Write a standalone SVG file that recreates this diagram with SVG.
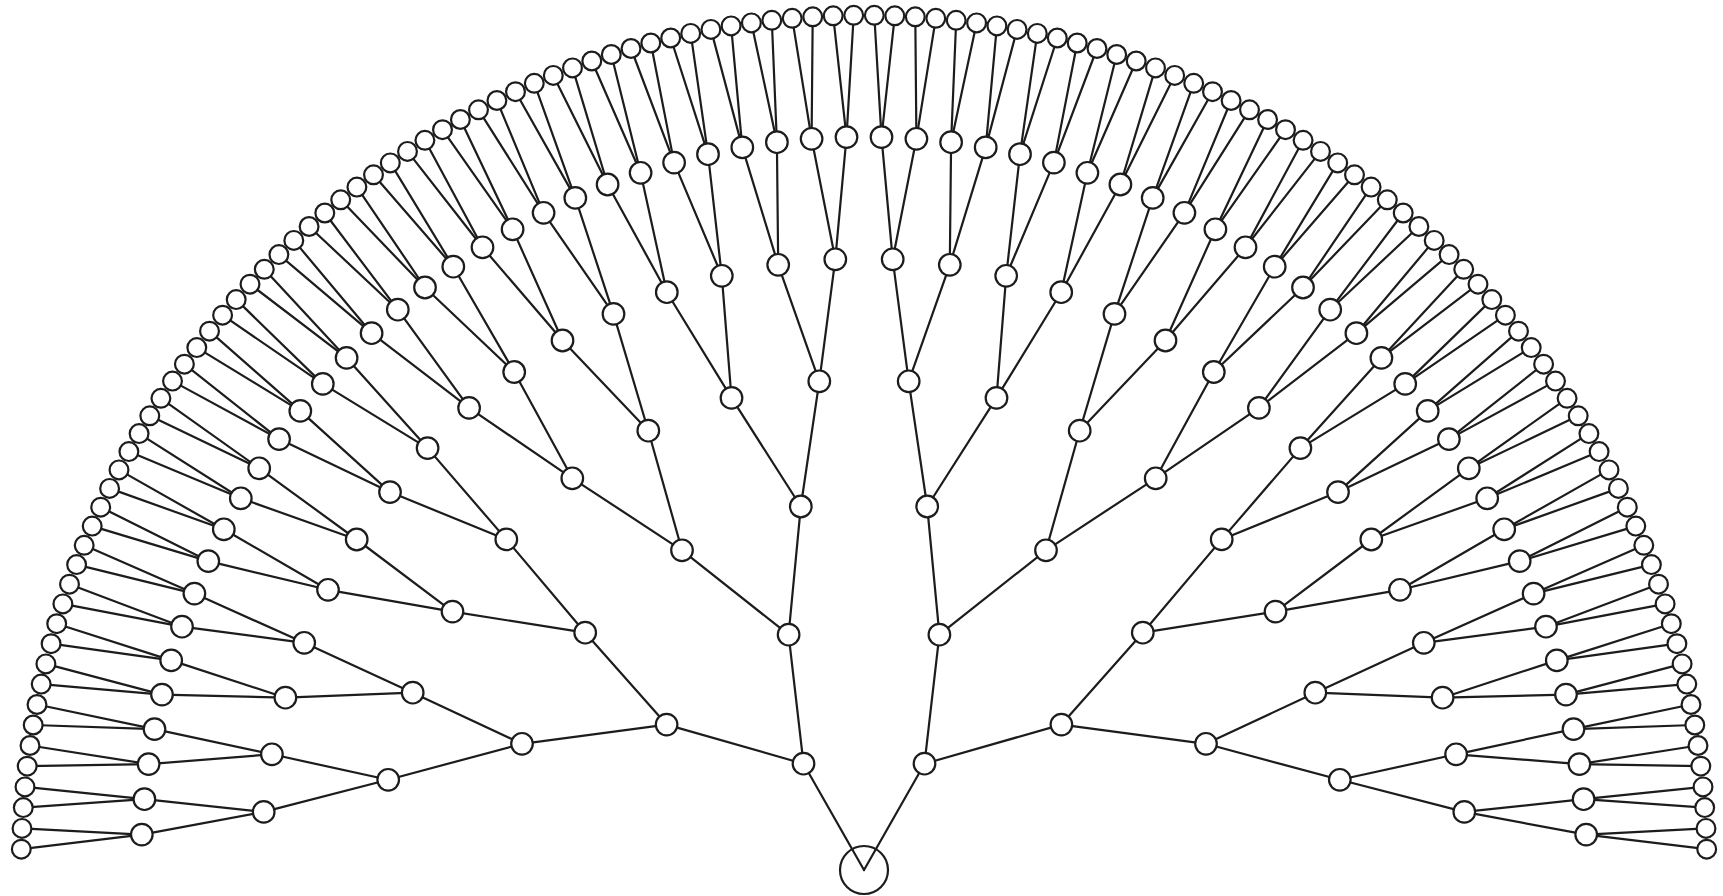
<svg xmlns="http://www.w3.org/2000/svg" width="1723" height="896" viewBox="0 0 1723 896">
<style>
.bg{fill:#fff}
#connectors line{stroke:#1c1c1c;stroke-width:2.2;stroke-linecap:round}
.node circle{fill:#fff;stroke:#1c1c1c;stroke-width:2.2}
.root circle{fill:none;stroke:#1c1c1c;stroke-width:2.2}
</style>
<rect class="bg" x="0" y="0" width="1723" height="896"/>
<g id="connectors">
<line x1="864" y1="870" x2="803.5" y2="763.7"/>
<line x1="864" y1="870" x2="924.5" y2="763.7"/>
<line x1="803.5" y1="763.7" x2="666.6" y2="724.6"/><line x1="803.5" y1="763.7" x2="788.6" y2="634.7"/>
<line x1="666.6" y1="724.6" x2="522.0" y2="743.8"/><line x1="666.6" y1="724.6" x2="585.2" y2="632.7"/>
<line x1="788.6" y1="634.7" x2="682.0" y2="550.3"/><line x1="788.6" y1="634.7" x2="800.8" y2="506.5"/>
<line x1="522.0" y1="743.8" x2="388.2" y2="779.8"/><line x1="522.0" y1="743.8" x2="412.7" y2="692.7"/>
<line x1="585.2" y1="632.7" x2="452.5" y2="611.6"/><line x1="585.2" y1="632.7" x2="506.3" y2="539.4"/>
<line x1="682.0" y1="550.3" x2="572.3" y2="478.3"/><line x1="682.0" y1="550.3" x2="648.3" y2="430.7"/>
<line x1="800.8" y1="506.5" x2="731.5" y2="397.9"/><line x1="800.8" y1="506.5" x2="819.3" y2="381.3"/>
<line x1="388.2" y1="779.8" x2="263.7" y2="811.9"/><line x1="388.2" y1="779.8" x2="271.9" y2="754.3"/>
<line x1="412.7" y1="692.7" x2="285.4" y2="697.7"/><line x1="412.7" y1="692.7" x2="304.2" y2="642.8"/>
<line x1="452.5" y1="611.6" x2="328.0" y2="589.8"/><line x1="452.5" y1="611.6" x2="356.7" y2="539.5"/>
<line x1="506.3" y1="539.4" x2="390.0" y2="492.1"/><line x1="506.3" y1="539.4" x2="427.6" y2="448.1"/>
<line x1="572.3" y1="478.3" x2="469.1" y2="407.9"/><line x1="572.3" y1="478.3" x2="514.2" y2="372.0"/>
<line x1="648.3" y1="430.7" x2="562.5" y2="340.5"/><line x1="648.3" y1="430.7" x2="613.5" y2="313.9"/>
<line x1="731.5" y1="397.9" x2="666.8" y2="292.2"/><line x1="731.5" y1="397.9" x2="721.8" y2="275.8"/>
<line x1="819.3" y1="381.3" x2="778.2" y2="264.8"/><line x1="819.3" y1="381.3" x2="835.3" y2="259.3"/>
<line x1="263.7" y1="811.9" x2="141.8" y2="834.6"/><line x1="263.7" y1="811.9" x2="144.4" y2="799.2"/>
<line x1="271.9" y1="754.3" x2="148.6" y2="764.1"/><line x1="271.9" y1="754.3" x2="154.5" y2="729.1"/>
<line x1="285.4" y1="697.7" x2="162.0" y2="694.6"/><line x1="285.4" y1="697.7" x2="171.2" y2="660.4"/>
<line x1="304.2" y1="642.8" x2="182.0" y2="626.7"/><line x1="304.2" y1="642.8" x2="194.4" y2="593.6"/>
<line x1="328.0" y1="589.8" x2="208.3" y2="561.1"/><line x1="328.0" y1="589.8" x2="223.8" y2="529.3"/>
<line x1="356.7" y1="539.5" x2="240.8" y2="498.3"/><line x1="356.7" y1="539.5" x2="259.2" y2="468.3"/>
<line x1="390.0" y1="492.1" x2="279.1" y2="439.1"/><line x1="390.0" y1="492.1" x2="300.3" y2="410.9"/>
<line x1="427.6" y1="448.1" x2="322.8" y2="383.9"/><line x1="427.6" y1="448.1" x2="346.6" y2="357.9"/>
<line x1="469.1" y1="407.9" x2="371.6" y2="333.2"/><line x1="469.1" y1="407.9" x2="397.8" y2="309.7"/>
<line x1="514.2" y1="372.0" x2="425.0" y2="287.5"/><line x1="514.2" y1="372.0" x2="453.3" y2="266.7"/>
<line x1="562.5" y1="340.5" x2="482.5" y2="247.3"/><line x1="562.5" y1="340.5" x2="512.6" y2="229.3"/>
<line x1="613.5" y1="313.9" x2="543.6" y2="212.8"/><line x1="613.5" y1="313.9" x2="575.3" y2="197.9"/>
<line x1="666.8" y1="292.2" x2="607.6" y2="184.5"/><line x1="666.8" y1="292.2" x2="640.6" y2="172.8"/>
<line x1="721.8" y1="275.8" x2="674.1" y2="162.6"/><line x1="721.8" y1="275.8" x2="708.0" y2="154.2"/>
<line x1="778.2" y1="264.8" x2="742.3" y2="147.4"/><line x1="778.2" y1="264.8" x2="776.9" y2="142.2"/>
<line x1="835.3" y1="259.3" x2="811.6" y2="138.8"/><line x1="835.3" y1="259.3" x2="846.5" y2="137.1"/>
<line x1="141.8" y1="834.6" x2="21.3" y2="849.2"/><line x1="141.8" y1="834.6" x2="22.0" y2="828.4"/>
<line x1="144.4" y1="799.2" x2="23.3" y2="807.6"/><line x1="144.4" y1="799.2" x2="25.0" y2="786.9"/>
<line x1="148.6" y1="764.1" x2="27.2" y2="766.2"/><line x1="148.6" y1="764.1" x2="30.0" y2="745.5"/>
<line x1="154.5" y1="729.1" x2="33.2" y2="725.0"/><line x1="154.5" y1="729.1" x2="37.0" y2="704.5"/>
<line x1="162.0" y1="694.6" x2="41.2" y2="684.1"/><line x1="162.0" y1="694.6" x2="45.9" y2="663.9"/>
<line x1="171.2" y1="660.4" x2="51.1" y2="643.7"/><line x1="171.2" y1="660.4" x2="56.7" y2="623.7"/>
<line x1="182.0" y1="626.7" x2="62.9" y2="603.9"/><line x1="182.0" y1="626.7" x2="69.5" y2="584.2"/>
<line x1="194.4" y1="593.6" x2="76.6" y2="564.6"/><line x1="194.4" y1="593.6" x2="84.2" y2="545.3"/>
<line x1="208.3" y1="561.1" x2="92.2" y2="526.1"/><line x1="208.3" y1="561.1" x2="100.7" y2="507.2"/>
<line x1="223.8" y1="529.3" x2="109.6" y2="488.4"/><line x1="223.8" y1="529.3" x2="119.0" y2="469.9"/>
<line x1="240.8" y1="498.3" x2="128.9" y2="451.6"/><line x1="240.8" y1="498.3" x2="139.1" y2="433.6"/>
<line x1="259.2" y1="468.3" x2="149.8" y2="415.8"/><line x1="259.2" y1="468.3" x2="160.9" y2="398.3"/>
<line x1="279.1" y1="439.1" x2="172.5" y2="381.1"/><line x1="279.1" y1="439.1" x2="184.4" y2="364.2"/>
<line x1="300.3" y1="410.9" x2="196.8" y2="347.6"/><line x1="300.3" y1="410.9" x2="209.5" y2="331.2"/>
<line x1="322.8" y1="383.9" x2="222.6" y2="315.2"/><line x1="322.8" y1="383.9" x2="236.2" y2="299.6"/>
<line x1="346.6" y1="357.9" x2="250.0" y2="284.2"/><line x1="346.6" y1="357.9" x2="264.3" y2="269.3"/>
<line x1="371.6" y1="333.2" x2="278.9" y2="254.6"/><line x1="371.6" y1="333.2" x2="293.8" y2="240.4"/>
<line x1="397.8" y1="309.7" x2="309.1" y2="226.5"/><line x1="397.8" y1="309.7" x2="324.8" y2="213.0"/>
<line x1="425.0" y1="287.5" x2="340.7" y2="199.8"/><line x1="425.0" y1="287.5" x2="356.9" y2="187.1"/>
<line x1="453.3" y1="266.7" x2="373.5" y2="174.8"/><line x1="453.3" y1="266.7" x2="390.3" y2="162.9"/>
<line x1="482.5" y1="247.3" x2="407.5" y2="151.4"/><line x1="482.5" y1="247.3" x2="424.9" y2="140.3"/>
<line x1="512.6" y1="229.3" x2="442.5" y2="129.7"/><line x1="512.6" y1="229.3" x2="460.4" y2="119.5"/>
<line x1="543.6" y1="212.8" x2="478.5" y2="109.8"/><line x1="543.6" y1="212.8" x2="496.9" y2="100.5"/>
<line x1="575.3" y1="197.9" x2="515.5" y2="91.7"/><line x1="575.3" y1="197.9" x2="534.3" y2="83.3"/>
<line x1="607.6" y1="184.5" x2="553.3" y2="75.4"/><line x1="607.6" y1="184.5" x2="572.5" y2="67.9"/>
<line x1="640.6" y1="172.8" x2="591.8" y2="61.0"/><line x1="640.6" y1="172.8" x2="611.3" y2="54.5"/>
<line x1="674.1" y1="162.6" x2="631.0" y2="48.5"/><line x1="674.1" y1="162.6" x2="650.8" y2="43.0"/>
<line x1="708.0" y1="154.2" x2="670.7" y2="38.0"/><line x1="708.0" y1="154.2" x2="690.7" y2="33.4"/>
<line x1="742.3" y1="147.4" x2="710.9" y2="29.4"/><line x1="742.3" y1="147.4" x2="731.1" y2="25.9"/>
<line x1="776.9" y1="142.2" x2="751.4" y2="22.9"/><line x1="776.9" y1="142.2" x2="771.8" y2="20.3"/>
<line x1="811.6" y1="138.8" x2="792.2" y2="18.3"/><line x1="811.6" y1="138.8" x2="812.7" y2="16.8"/>
<line x1="846.5" y1="137.1" x2="833.2" y2="15.8"/><line x1="846.5" y1="137.1" x2="853.7" y2="15.3"/>
<line x1="924.5" y1="763.7" x2="1061.4" y2="724.6"/><line x1="924.5" y1="763.7" x2="939.4" y2="634.7"/>
<line x1="1061.4" y1="724.6" x2="1206.0" y2="743.8"/><line x1="1061.4" y1="724.6" x2="1142.8" y2="632.7"/>
<line x1="939.4" y1="634.7" x2="1046.0" y2="550.3"/><line x1="939.4" y1="634.7" x2="927.2" y2="506.5"/>
<line x1="1206.0" y1="743.8" x2="1339.8" y2="779.8"/><line x1="1206.0" y1="743.8" x2="1315.3" y2="692.7"/>
<line x1="1142.8" y1="632.7" x2="1275.5" y2="611.6"/><line x1="1142.8" y1="632.7" x2="1221.7" y2="539.4"/>
<line x1="1046.0" y1="550.3" x2="1155.7" y2="478.3"/><line x1="1046.0" y1="550.3" x2="1079.7" y2="430.7"/>
<line x1="927.2" y1="506.5" x2="996.5" y2="397.9"/><line x1="927.2" y1="506.5" x2="908.7" y2="381.3"/>
<line x1="1339.8" y1="779.8" x2="1464.3" y2="811.9"/><line x1="1339.8" y1="779.8" x2="1456.1" y2="754.3"/>
<line x1="1315.3" y1="692.7" x2="1442.6" y2="697.7"/><line x1="1315.3" y1="692.7" x2="1423.8" y2="642.8"/>
<line x1="1275.5" y1="611.6" x2="1400.0" y2="589.8"/><line x1="1275.5" y1="611.6" x2="1371.3" y2="539.5"/>
<line x1="1221.7" y1="539.4" x2="1338.0" y2="492.1"/><line x1="1221.7" y1="539.4" x2="1300.4" y2="448.1"/>
<line x1="1155.7" y1="478.3" x2="1258.9" y2="407.9"/><line x1="1155.7" y1="478.3" x2="1213.8" y2="372.0"/>
<line x1="1079.7" y1="430.7" x2="1165.5" y2="340.5"/><line x1="1079.7" y1="430.7" x2="1114.5" y2="313.9"/>
<line x1="996.5" y1="397.9" x2="1061.2" y2="292.2"/><line x1="996.5" y1="397.9" x2="1006.2" y2="275.8"/>
<line x1="908.7" y1="381.3" x2="949.8" y2="264.8"/><line x1="908.7" y1="381.3" x2="892.7" y2="259.3"/>
<line x1="1464.3" y1="811.9" x2="1586.2" y2="834.6"/><line x1="1464.3" y1="811.9" x2="1583.6" y2="799.2"/>
<line x1="1456.1" y1="754.3" x2="1579.4" y2="764.1"/><line x1="1456.1" y1="754.3" x2="1573.5" y2="729.1"/>
<line x1="1442.6" y1="697.7" x2="1566.0" y2="694.6"/><line x1="1442.6" y1="697.7" x2="1556.8" y2="660.4"/>
<line x1="1423.8" y1="642.8" x2="1546.0" y2="626.7"/><line x1="1423.8" y1="642.8" x2="1533.6" y2="593.6"/>
<line x1="1400.0" y1="589.8" x2="1519.7" y2="561.1"/><line x1="1400.0" y1="589.8" x2="1504.2" y2="529.3"/>
<line x1="1371.3" y1="539.5" x2="1487.2" y2="498.3"/><line x1="1371.3" y1="539.5" x2="1468.8" y2="468.3"/>
<line x1="1338.0" y1="492.1" x2="1448.9" y2="439.1"/><line x1="1338.0" y1="492.1" x2="1427.7" y2="410.9"/>
<line x1="1300.4" y1="448.1" x2="1405.2" y2="383.9"/><line x1="1300.4" y1="448.1" x2="1381.4" y2="357.9"/>
<line x1="1258.9" y1="407.9" x2="1356.4" y2="333.2"/><line x1="1258.9" y1="407.9" x2="1330.2" y2="309.7"/>
<line x1="1213.8" y1="372.0" x2="1303.0" y2="287.5"/><line x1="1213.8" y1="372.0" x2="1274.7" y2="266.7"/>
<line x1="1165.5" y1="340.5" x2="1245.5" y2="247.3"/><line x1="1165.5" y1="340.5" x2="1215.4" y2="229.3"/>
<line x1="1114.5" y1="313.9" x2="1184.4" y2="212.8"/><line x1="1114.5" y1="313.9" x2="1152.7" y2="197.9"/>
<line x1="1061.2" y1="292.2" x2="1120.4" y2="184.5"/><line x1="1061.2" y1="292.2" x2="1087.4" y2="172.8"/>
<line x1="1006.2" y1="275.8" x2="1053.9" y2="162.6"/><line x1="1006.2" y1="275.8" x2="1020.0" y2="154.2"/>
<line x1="949.8" y1="264.8" x2="985.7" y2="147.4"/><line x1="949.8" y1="264.8" x2="951.1" y2="142.2"/>
<line x1="892.7" y1="259.3" x2="916.4" y2="138.8"/><line x1="892.7" y1="259.3" x2="881.5" y2="137.1"/>
<line x1="1586.2" y1="834.6" x2="1706.7" y2="849.2"/><line x1="1586.2" y1="834.6" x2="1706.0" y2="828.4"/>
<line x1="1583.6" y1="799.2" x2="1704.7" y2="807.6"/><line x1="1583.6" y1="799.2" x2="1703.0" y2="786.9"/>
<line x1="1579.4" y1="764.1" x2="1700.8" y2="766.2"/><line x1="1579.4" y1="764.1" x2="1698.0" y2="745.5"/>
<line x1="1573.5" y1="729.1" x2="1694.8" y2="725.0"/><line x1="1573.5" y1="729.1" x2="1691.0" y2="704.5"/>
<line x1="1566.0" y1="694.6" x2="1686.8" y2="684.1"/><line x1="1566.0" y1="694.6" x2="1682.1" y2="663.9"/>
<line x1="1556.8" y1="660.4" x2="1676.9" y2="643.7"/><line x1="1556.8" y1="660.4" x2="1671.3" y2="623.7"/>
<line x1="1546.0" y1="626.7" x2="1665.1" y2="603.9"/><line x1="1546.0" y1="626.7" x2="1658.5" y2="584.2"/>
<line x1="1533.6" y1="593.6" x2="1651.4" y2="564.6"/><line x1="1533.6" y1="593.6" x2="1643.8" y2="545.3"/>
<line x1="1519.7" y1="561.1" x2="1635.8" y2="526.1"/><line x1="1519.7" y1="561.1" x2="1627.3" y2="507.2"/>
<line x1="1504.2" y1="529.3" x2="1618.4" y2="488.4"/><line x1="1504.2" y1="529.3" x2="1609.0" y2="469.9"/>
<line x1="1487.2" y1="498.3" x2="1599.1" y2="451.6"/><line x1="1487.2" y1="498.3" x2="1588.9" y2="433.6"/>
<line x1="1468.8" y1="468.3" x2="1578.2" y2="415.8"/><line x1="1468.8" y1="468.3" x2="1567.1" y2="398.3"/>
<line x1="1448.9" y1="439.1" x2="1555.5" y2="381.1"/><line x1="1448.9" y1="439.1" x2="1543.6" y2="364.2"/>
<line x1="1427.7" y1="410.9" x2="1531.2" y2="347.6"/><line x1="1427.7" y1="410.9" x2="1518.5" y2="331.2"/>
<line x1="1405.2" y1="383.9" x2="1505.4" y2="315.2"/><line x1="1405.2" y1="383.9" x2="1491.8" y2="299.6"/>
<line x1="1381.4" y1="357.9" x2="1478.0" y2="284.2"/><line x1="1381.4" y1="357.9" x2="1463.7" y2="269.3"/>
<line x1="1356.4" y1="333.2" x2="1449.1" y2="254.6"/><line x1="1356.4" y1="333.2" x2="1434.2" y2="240.4"/>
<line x1="1330.2" y1="309.7" x2="1418.9" y2="226.5"/><line x1="1330.2" y1="309.7" x2="1403.2" y2="213.0"/>
<line x1="1303.0" y1="287.5" x2="1387.3" y2="199.8"/><line x1="1303.0" y1="287.5" x2="1371.1" y2="187.1"/>
<line x1="1274.7" y1="266.7" x2="1354.5" y2="174.8"/><line x1="1274.7" y1="266.7" x2="1337.7" y2="162.9"/>
<line x1="1245.5" y1="247.3" x2="1320.5" y2="151.4"/><line x1="1245.5" y1="247.3" x2="1303.1" y2="140.3"/>
<line x1="1215.4" y1="229.3" x2="1285.5" y2="129.7"/><line x1="1215.4" y1="229.3" x2="1267.6" y2="119.5"/>
<line x1="1184.4" y1="212.8" x2="1249.5" y2="109.8"/><line x1="1184.4" y1="212.8" x2="1231.1" y2="100.5"/>
<line x1="1152.7" y1="197.9" x2="1212.5" y2="91.7"/><line x1="1152.7" y1="197.9" x2="1193.7" y2="83.3"/>
<line x1="1120.4" y1="184.5" x2="1174.7" y2="75.4"/><line x1="1120.4" y1="184.5" x2="1155.5" y2="67.9"/>
<line x1="1087.4" y1="172.8" x2="1136.2" y2="61.0"/><line x1="1087.4" y1="172.8" x2="1116.7" y2="54.5"/>
<line x1="1053.9" y1="162.6" x2="1097.0" y2="48.5"/><line x1="1053.9" y1="162.6" x2="1077.2" y2="43.0"/>
<line x1="1020.0" y1="154.2" x2="1057.3" y2="38.0"/><line x1="1020.0" y1="154.2" x2="1037.3" y2="33.4"/>
<line x1="985.7" y1="147.4" x2="1017.1" y2="29.4"/><line x1="985.7" y1="147.4" x2="996.9" y2="25.9"/>
<line x1="951.1" y1="142.2" x2="976.6" y2="22.9"/><line x1="951.1" y1="142.2" x2="956.2" y2="20.3"/>
<line x1="916.4" y1="138.8" x2="935.8" y2="18.3"/><line x1="916.4" y1="138.8" x2="915.3" y2="16.8"/>
<line x1="881.5" y1="137.1" x2="894.8" y2="15.8"/><line x1="881.5" y1="137.1" x2="874.3" y2="15.3"/>
</g>
<g id="root" class="root"><circle cx="864" cy="870" r="24"/></g>
<g id="l1-1" class="node"><circle cx="803.5" cy="763.7" r="10.8"/></g>
<g id="r1-1" class="node"><circle cx="924.5" cy="763.7" r="10.8"/></g>
<g id="l2-1" class="node"><circle cx="666.6" cy="724.6" r="10.8"/></g>
<g id="l2-2" class="node"><circle cx="788.6" cy="634.7" r="10.8"/></g>
<g id="r2-1" class="node"><circle cx="1061.4" cy="724.6" r="10.8"/></g>
<g id="r2-2" class="node"><circle cx="939.4" cy="634.7" r="10.8"/></g>
<g id="l3-1" class="node"><circle cx="522.0" cy="743.8" r="10.8"/></g>
<g id="l3-2" class="node"><circle cx="585.2" cy="632.7" r="10.8"/></g>
<g id="l3-3" class="node"><circle cx="682.0" cy="550.3" r="10.8"/></g>
<g id="l3-4" class="node"><circle cx="800.8" cy="506.5" r="10.8"/></g>
<g id="r3-1" class="node"><circle cx="1206.0" cy="743.8" r="10.8"/></g>
<g id="r3-2" class="node"><circle cx="1142.8" cy="632.7" r="10.8"/></g>
<g id="r3-3" class="node"><circle cx="1046.0" cy="550.3" r="10.8"/></g>
<g id="r3-4" class="node"><circle cx="927.2" cy="506.5" r="10.8"/></g>
<g id="l4-1" class="node"><circle cx="388.2" cy="779.8" r="10.8"/></g>
<g id="l4-2" class="node"><circle cx="412.7" cy="692.7" r="10.8"/></g>
<g id="l4-3" class="node"><circle cx="452.5" cy="611.6" r="10.8"/></g>
<g id="l4-4" class="node"><circle cx="506.3" cy="539.4" r="10.8"/></g>
<g id="l4-5" class="node"><circle cx="572.3" cy="478.3" r="10.8"/></g>
<g id="l4-6" class="node"><circle cx="648.3" cy="430.7" r="10.8"/></g>
<g id="l4-7" class="node"><circle cx="731.5" cy="397.9" r="10.8"/></g>
<g id="l4-8" class="node"><circle cx="819.3" cy="381.3" r="10.8"/></g>
<g id="r4-1" class="node"><circle cx="1339.8" cy="779.8" r="10.8"/></g>
<g id="r4-2" class="node"><circle cx="1315.3" cy="692.7" r="10.8"/></g>
<g id="r4-3" class="node"><circle cx="1275.5" cy="611.6" r="10.8"/></g>
<g id="r4-4" class="node"><circle cx="1221.7" cy="539.4" r="10.8"/></g>
<g id="r4-5" class="node"><circle cx="1155.7" cy="478.3" r="10.8"/></g>
<g id="r4-6" class="node"><circle cx="1079.7" cy="430.7" r="10.8"/></g>
<g id="r4-7" class="node"><circle cx="996.5" cy="397.9" r="10.8"/></g>
<g id="r4-8" class="node"><circle cx="908.7" cy="381.3" r="10.8"/></g>
<g id="l5-1" class="node"><circle cx="263.7" cy="811.9" r="10.8"/></g>
<g id="l5-2" class="node"><circle cx="271.9" cy="754.3" r="10.8"/></g>
<g id="l5-3" class="node"><circle cx="285.4" cy="697.7" r="10.8"/></g>
<g id="l5-4" class="node"><circle cx="304.2" cy="642.8" r="10.8"/></g>
<g id="l5-5" class="node"><circle cx="328.0" cy="589.8" r="10.8"/></g>
<g id="l5-6" class="node"><circle cx="356.7" cy="539.5" r="10.8"/></g>
<g id="l5-7" class="node"><circle cx="390.0" cy="492.1" r="10.8"/></g>
<g id="l5-8" class="node"><circle cx="427.6" cy="448.1" r="10.8"/></g>
<g id="l5-9" class="node"><circle cx="469.1" cy="407.9" r="10.8"/></g>
<g id="l5-10" class="node"><circle cx="514.2" cy="372.0" r="10.8"/></g>
<g id="l5-11" class="node"><circle cx="562.5" cy="340.5" r="10.8"/></g>
<g id="l5-12" class="node"><circle cx="613.5" cy="313.9" r="10.8"/></g>
<g id="l5-13" class="node"><circle cx="666.8" cy="292.2" r="10.8"/></g>
<g id="l5-14" class="node"><circle cx="721.8" cy="275.8" r="10.8"/></g>
<g id="l5-15" class="node"><circle cx="778.2" cy="264.8" r="10.8"/></g>
<g id="l5-16" class="node"><circle cx="835.3" cy="259.3" r="10.8"/></g>
<g id="r5-1" class="node"><circle cx="1464.3" cy="811.9" r="10.8"/></g>
<g id="r5-2" class="node"><circle cx="1456.1" cy="754.3" r="10.8"/></g>
<g id="r5-3" class="node"><circle cx="1442.6" cy="697.7" r="10.8"/></g>
<g id="r5-4" class="node"><circle cx="1423.8" cy="642.8" r="10.8"/></g>
<g id="r5-5" class="node"><circle cx="1400.0" cy="589.8" r="10.8"/></g>
<g id="r5-6" class="node"><circle cx="1371.3" cy="539.5" r="10.8"/></g>
<g id="r5-7" class="node"><circle cx="1338.0" cy="492.1" r="10.8"/></g>
<g id="r5-8" class="node"><circle cx="1300.4" cy="448.1" r="10.8"/></g>
<g id="r5-9" class="node"><circle cx="1258.9" cy="407.9" r="10.8"/></g>
<g id="r5-10" class="node"><circle cx="1213.8" cy="372.0" r="10.8"/></g>
<g id="r5-11" class="node"><circle cx="1165.5" cy="340.5" r="10.8"/></g>
<g id="r5-12" class="node"><circle cx="1114.5" cy="313.9" r="10.8"/></g>
<g id="r5-13" class="node"><circle cx="1061.2" cy="292.2" r="10.8"/></g>
<g id="r5-14" class="node"><circle cx="1006.2" cy="275.8" r="10.8"/></g>
<g id="r5-15" class="node"><circle cx="949.8" cy="264.8" r="10.8"/></g>
<g id="r5-16" class="node"><circle cx="892.7" cy="259.3" r="10.8"/></g>
<g id="l6-1" class="node"><circle cx="141.8" cy="834.6" r="10.8"/></g>
<g id="l6-2" class="node"><circle cx="144.4" cy="799.2" r="10.8"/></g>
<g id="l6-3" class="node"><circle cx="148.6" cy="764.1" r="10.8"/></g>
<g id="l6-4" class="node"><circle cx="154.5" cy="729.1" r="10.8"/></g>
<g id="l6-5" class="node"><circle cx="162.0" cy="694.6" r="10.8"/></g>
<g id="l6-6" class="node"><circle cx="171.2" cy="660.4" r="10.8"/></g>
<g id="l6-7" class="node"><circle cx="182.0" cy="626.7" r="10.8"/></g>
<g id="l6-8" class="node"><circle cx="194.4" cy="593.6" r="10.8"/></g>
<g id="l6-9" class="node"><circle cx="208.3" cy="561.1" r="10.8"/></g>
<g id="l6-10" class="node"><circle cx="223.8" cy="529.3" r="10.8"/></g>
<g id="l6-11" class="node"><circle cx="240.8" cy="498.3" r="10.8"/></g>
<g id="l6-12" class="node"><circle cx="259.2" cy="468.3" r="10.8"/></g>
<g id="l6-13" class="node"><circle cx="279.1" cy="439.1" r="10.8"/></g>
<g id="l6-14" class="node"><circle cx="300.3" cy="410.9" r="10.8"/></g>
<g id="l6-15" class="node"><circle cx="322.8" cy="383.9" r="10.8"/></g>
<g id="l6-16" class="node"><circle cx="346.6" cy="357.9" r="10.8"/></g>
<g id="l6-17" class="node"><circle cx="371.6" cy="333.2" r="10.8"/></g>
<g id="l6-18" class="node"><circle cx="397.8" cy="309.7" r="10.8"/></g>
<g id="l6-19" class="node"><circle cx="425.0" cy="287.5" r="10.8"/></g>
<g id="l6-20" class="node"><circle cx="453.3" cy="266.7" r="10.8"/></g>
<g id="l6-21" class="node"><circle cx="482.5" cy="247.3" r="10.8"/></g>
<g id="l6-22" class="node"><circle cx="512.6" cy="229.3" r="10.8"/></g>
<g id="l6-23" class="node"><circle cx="543.6" cy="212.8" r="10.8"/></g>
<g id="l6-24" class="node"><circle cx="575.3" cy="197.9" r="10.8"/></g>
<g id="l6-25" class="node"><circle cx="607.6" cy="184.5" r="10.8"/></g>
<g id="l6-26" class="node"><circle cx="640.6" cy="172.8" r="10.8"/></g>
<g id="l6-27" class="node"><circle cx="674.1" cy="162.6" r="10.8"/></g>
<g id="l6-28" class="node"><circle cx="708.0" cy="154.2" r="10.8"/></g>
<g id="l6-29" class="node"><circle cx="742.3" cy="147.4" r="10.8"/></g>
<g id="l6-30" class="node"><circle cx="776.9" cy="142.2" r="10.8"/></g>
<g id="l6-31" class="node"><circle cx="811.6" cy="138.8" r="10.8"/></g>
<g id="l6-32" class="node"><circle cx="846.5" cy="137.1" r="10.8"/></g>
<g id="r6-1" class="node"><circle cx="1586.2" cy="834.6" r="10.8"/></g>
<g id="r6-2" class="node"><circle cx="1583.6" cy="799.2" r="10.8"/></g>
<g id="r6-3" class="node"><circle cx="1579.4" cy="764.1" r="10.8"/></g>
<g id="r6-4" class="node"><circle cx="1573.5" cy="729.1" r="10.8"/></g>
<g id="r6-5" class="node"><circle cx="1566.0" cy="694.6" r="10.8"/></g>
<g id="r6-6" class="node"><circle cx="1556.8" cy="660.4" r="10.8"/></g>
<g id="r6-7" class="node"><circle cx="1546.0" cy="626.7" r="10.8"/></g>
<g id="r6-8" class="node"><circle cx="1533.6" cy="593.6" r="10.8"/></g>
<g id="r6-9" class="node"><circle cx="1519.7" cy="561.1" r="10.8"/></g>
<g id="r6-10" class="node"><circle cx="1504.2" cy="529.3" r="10.8"/></g>
<g id="r6-11" class="node"><circle cx="1487.2" cy="498.3" r="10.8"/></g>
<g id="r6-12" class="node"><circle cx="1468.8" cy="468.3" r="10.8"/></g>
<g id="r6-13" class="node"><circle cx="1448.9" cy="439.1" r="10.8"/></g>
<g id="r6-14" class="node"><circle cx="1427.7" cy="410.9" r="10.8"/></g>
<g id="r6-15" class="node"><circle cx="1405.2" cy="383.9" r="10.8"/></g>
<g id="r6-16" class="node"><circle cx="1381.4" cy="357.9" r="10.8"/></g>
<g id="r6-17" class="node"><circle cx="1356.4" cy="333.2" r="10.8"/></g>
<g id="r6-18" class="node"><circle cx="1330.2" cy="309.7" r="10.8"/></g>
<g id="r6-19" class="node"><circle cx="1303.0" cy="287.5" r="10.8"/></g>
<g id="r6-20" class="node"><circle cx="1274.7" cy="266.7" r="10.8"/></g>
<g id="r6-21" class="node"><circle cx="1245.5" cy="247.3" r="10.8"/></g>
<g id="r6-22" class="node"><circle cx="1215.4" cy="229.3" r="10.8"/></g>
<g id="r6-23" class="node"><circle cx="1184.4" cy="212.8" r="10.8"/></g>
<g id="r6-24" class="node"><circle cx="1152.7" cy="197.9" r="10.8"/></g>
<g id="r6-25" class="node"><circle cx="1120.4" cy="184.5" r="10.8"/></g>
<g id="r6-26" class="node"><circle cx="1087.4" cy="172.8" r="10.8"/></g>
<g id="r6-27" class="node"><circle cx="1053.9" cy="162.6" r="10.8"/></g>
<g id="r6-28" class="node"><circle cx="1020.0" cy="154.2" r="10.8"/></g>
<g id="r6-29" class="node"><circle cx="985.7" cy="147.4" r="10.8"/></g>
<g id="r6-30" class="node"><circle cx="951.1" cy="142.2" r="10.8"/></g>
<g id="r6-31" class="node"><circle cx="916.4" cy="138.8" r="10.8"/></g>
<g id="r6-32" class="node"><circle cx="881.5" cy="137.1" r="10.8"/></g>
<g id="l7-1" class="node"><circle cx="21.3" cy="849.2" r="9.4"/></g>
<g id="l7-2" class="node"><circle cx="22.0" cy="828.4" r="9.4"/></g>
<g id="l7-3" class="node"><circle cx="23.3" cy="807.6" r="9.4"/></g>
<g id="l7-4" class="node"><circle cx="25.0" cy="786.9" r="9.4"/></g>
<g id="l7-5" class="node"><circle cx="27.2" cy="766.2" r="9.4"/></g>
<g id="l7-6" class="node"><circle cx="30.0" cy="745.5" r="9.4"/></g>
<g id="l7-7" class="node"><circle cx="33.2" cy="725.0" r="9.4"/></g>
<g id="l7-8" class="node"><circle cx="37.0" cy="704.5" r="9.4"/></g>
<g id="l7-9" class="node"><circle cx="41.2" cy="684.1" r="9.4"/></g>
<g id="l7-10" class="node"><circle cx="45.9" cy="663.9" r="9.4"/></g>
<g id="l7-11" class="node"><circle cx="51.1" cy="643.7" r="9.4"/></g>
<g id="l7-12" class="node"><circle cx="56.7" cy="623.7" r="9.4"/></g>
<g id="l7-13" class="node"><circle cx="62.9" cy="603.9" r="9.4"/></g>
<g id="l7-14" class="node"><circle cx="69.5" cy="584.2" r="9.4"/></g>
<g id="l7-15" class="node"><circle cx="76.6" cy="564.6" r="9.4"/></g>
<g id="l7-16" class="node"><circle cx="84.2" cy="545.3" r="9.4"/></g>
<g id="l7-17" class="node"><circle cx="92.2" cy="526.1" r="9.4"/></g>
<g id="l7-18" class="node"><circle cx="100.7" cy="507.2" r="9.4"/></g>
<g id="l7-19" class="node"><circle cx="109.6" cy="488.4" r="9.4"/></g>
<g id="l7-20" class="node"><circle cx="119.0" cy="469.9" r="9.4"/></g>
<g id="l7-21" class="node"><circle cx="128.9" cy="451.6" r="9.4"/></g>
<g id="l7-22" class="node"><circle cx="139.1" cy="433.6" r="9.4"/></g>
<g id="l7-23" class="node"><circle cx="149.8" cy="415.8" r="9.4"/></g>
<g id="l7-24" class="node"><circle cx="160.9" cy="398.3" r="9.4"/></g>
<g id="l7-25" class="node"><circle cx="172.5" cy="381.1" r="9.4"/></g>
<g id="l7-26" class="node"><circle cx="184.4" cy="364.2" r="9.4"/></g>
<g id="l7-27" class="node"><circle cx="196.8" cy="347.6" r="9.4"/></g>
<g id="l7-28" class="node"><circle cx="209.5" cy="331.2" r="9.4"/></g>
<g id="l7-29" class="node"><circle cx="222.6" cy="315.2" r="9.4"/></g>
<g id="l7-30" class="node"><circle cx="236.2" cy="299.6" r="9.4"/></g>
<g id="l7-31" class="node"><circle cx="250.0" cy="284.2" r="9.4"/></g>
<g id="l7-32" class="node"><circle cx="264.3" cy="269.3" r="9.4"/></g>
<g id="l7-33" class="node"><circle cx="278.9" cy="254.6" r="9.4"/></g>
<g id="l7-34" class="node"><circle cx="293.8" cy="240.4" r="9.4"/></g>
<g id="l7-35" class="node"><circle cx="309.1" cy="226.5" r="9.4"/></g>
<g id="l7-36" class="node"><circle cx="324.8" cy="213.0" r="9.4"/></g>
<g id="l7-37" class="node"><circle cx="340.7" cy="199.8" r="9.4"/></g>
<g id="l7-38" class="node"><circle cx="356.9" cy="187.1" r="9.4"/></g>
<g id="l7-39" class="node"><circle cx="373.5" cy="174.8" r="9.4"/></g>
<g id="l7-40" class="node"><circle cx="390.3" cy="162.9" r="9.4"/></g>
<g id="l7-41" class="node"><circle cx="407.5" cy="151.4" r="9.4"/></g>
<g id="l7-42" class="node"><circle cx="424.9" cy="140.3" r="9.4"/></g>
<g id="l7-43" class="node"><circle cx="442.5" cy="129.7" r="9.4"/></g>
<g id="l7-44" class="node"><circle cx="460.4" cy="119.5" r="9.4"/></g>
<g id="l7-45" class="node"><circle cx="478.5" cy="109.8" r="9.4"/></g>
<g id="l7-46" class="node"><circle cx="496.9" cy="100.5" r="9.4"/></g>
<g id="l7-47" class="node"><circle cx="515.5" cy="91.7" r="9.4"/></g>
<g id="l7-48" class="node"><circle cx="534.3" cy="83.3" r="9.4"/></g>
<g id="l7-49" class="node"><circle cx="553.3" cy="75.4" r="9.4"/></g>
<g id="l7-50" class="node"><circle cx="572.5" cy="67.9" r="9.4"/></g>
<g id="l7-51" class="node"><circle cx="591.8" cy="61.0" r="9.4"/></g>
<g id="l7-52" class="node"><circle cx="611.3" cy="54.5" r="9.4"/></g>
<g id="l7-53" class="node"><circle cx="631.0" cy="48.5" r="9.4"/></g>
<g id="l7-54" class="node"><circle cx="650.8" cy="43.0" r="9.4"/></g>
<g id="l7-55" class="node"><circle cx="670.7" cy="38.0" r="9.4"/></g>
<g id="l7-56" class="node"><circle cx="690.7" cy="33.4" r="9.4"/></g>
<g id="l7-57" class="node"><circle cx="710.9" cy="29.4" r="9.4"/></g>
<g id="l7-58" class="node"><circle cx="731.1" cy="25.9" r="9.4"/></g>
<g id="l7-59" class="node"><circle cx="751.4" cy="22.9" r="9.4"/></g>
<g id="l7-60" class="node"><circle cx="771.8" cy="20.3" r="9.4"/></g>
<g id="l7-61" class="node"><circle cx="792.2" cy="18.3" r="9.4"/></g>
<g id="l7-62" class="node"><circle cx="812.7" cy="16.8" r="9.4"/></g>
<g id="l7-63" class="node"><circle cx="833.2" cy="15.8" r="9.4"/></g>
<g id="l7-64" class="node"><circle cx="853.7" cy="15.3" r="9.4"/></g>
<g id="r7-1" class="node"><circle cx="1706.7" cy="849.2" r="9.4"/></g>
<g id="r7-2" class="node"><circle cx="1706.0" cy="828.4" r="9.4"/></g>
<g id="r7-3" class="node"><circle cx="1704.7" cy="807.6" r="9.4"/></g>
<g id="r7-4" class="node"><circle cx="1703.0" cy="786.9" r="9.4"/></g>
<g id="r7-5" class="node"><circle cx="1700.8" cy="766.2" r="9.4"/></g>
<g id="r7-6" class="node"><circle cx="1698.0" cy="745.5" r="9.4"/></g>
<g id="r7-7" class="node"><circle cx="1694.8" cy="725.0" r="9.4"/></g>
<g id="r7-8" class="node"><circle cx="1691.0" cy="704.5" r="9.4"/></g>
<g id="r7-9" class="node"><circle cx="1686.8" cy="684.1" r="9.4"/></g>
<g id="r7-10" class="node"><circle cx="1682.1" cy="663.9" r="9.4"/></g>
<g id="r7-11" class="node"><circle cx="1676.9" cy="643.7" r="9.4"/></g>
<g id="r7-12" class="node"><circle cx="1671.3" cy="623.7" r="9.4"/></g>
<g id="r7-13" class="node"><circle cx="1665.1" cy="603.9" r="9.4"/></g>
<g id="r7-14" class="node"><circle cx="1658.5" cy="584.2" r="9.4"/></g>
<g id="r7-15" class="node"><circle cx="1651.4" cy="564.6" r="9.4"/></g>
<g id="r7-16" class="node"><circle cx="1643.8" cy="545.3" r="9.4"/></g>
<g id="r7-17" class="node"><circle cx="1635.8" cy="526.1" r="9.4"/></g>
<g id="r7-18" class="node"><circle cx="1627.3" cy="507.2" r="9.4"/></g>
<g id="r7-19" class="node"><circle cx="1618.4" cy="488.4" r="9.4"/></g>
<g id="r7-20" class="node"><circle cx="1609.0" cy="469.9" r="9.4"/></g>
<g id="r7-21" class="node"><circle cx="1599.1" cy="451.6" r="9.4"/></g>
<g id="r7-22" class="node"><circle cx="1588.9" cy="433.6" r="9.4"/></g>
<g id="r7-23" class="node"><circle cx="1578.2" cy="415.8" r="9.4"/></g>
<g id="r7-24" class="node"><circle cx="1567.1" cy="398.3" r="9.4"/></g>
<g id="r7-25" class="node"><circle cx="1555.5" cy="381.1" r="9.4"/></g>
<g id="r7-26" class="node"><circle cx="1543.6" cy="364.2" r="9.4"/></g>
<g id="r7-27" class="node"><circle cx="1531.2" cy="347.6" r="9.4"/></g>
<g id="r7-28" class="node"><circle cx="1518.5" cy="331.2" r="9.4"/></g>
<g id="r7-29" class="node"><circle cx="1505.4" cy="315.2" r="9.4"/></g>
<g id="r7-30" class="node"><circle cx="1491.8" cy="299.6" r="9.4"/></g>
<g id="r7-31" class="node"><circle cx="1478.0" cy="284.2" r="9.4"/></g>
<g id="r7-32" class="node"><circle cx="1463.7" cy="269.3" r="9.4"/></g>
<g id="r7-33" class="node"><circle cx="1449.1" cy="254.6" r="9.4"/></g>
<g id="r7-34" class="node"><circle cx="1434.2" cy="240.4" r="9.4"/></g>
<g id="r7-35" class="node"><circle cx="1418.9" cy="226.5" r="9.4"/></g>
<g id="r7-36" class="node"><circle cx="1403.2" cy="213.0" r="9.4"/></g>
<g id="r7-37" class="node"><circle cx="1387.3" cy="199.8" r="9.4"/></g>
<g id="r7-38" class="node"><circle cx="1371.1" cy="187.1" r="9.4"/></g>
<g id="r7-39" class="node"><circle cx="1354.5" cy="174.8" r="9.4"/></g>
<g id="r7-40" class="node"><circle cx="1337.7" cy="162.9" r="9.4"/></g>
<g id="r7-41" class="node"><circle cx="1320.5" cy="151.4" r="9.4"/></g>
<g id="r7-42" class="node"><circle cx="1303.1" cy="140.3" r="9.4"/></g>
<g id="r7-43" class="node"><circle cx="1285.5" cy="129.7" r="9.4"/></g>
<g id="r7-44" class="node"><circle cx="1267.6" cy="119.5" r="9.4"/></g>
<g id="r7-45" class="node"><circle cx="1249.5" cy="109.8" r="9.4"/></g>
<g id="r7-46" class="node"><circle cx="1231.1" cy="100.5" r="9.4"/></g>
<g id="r7-47" class="node"><circle cx="1212.5" cy="91.7" r="9.4"/></g>
<g id="r7-48" class="node"><circle cx="1193.7" cy="83.3" r="9.4"/></g>
<g id="r7-49" class="node"><circle cx="1174.7" cy="75.4" r="9.4"/></g>
<g id="r7-50" class="node"><circle cx="1155.5" cy="67.9" r="9.4"/></g>
<g id="r7-51" class="node"><circle cx="1136.2" cy="61.0" r="9.4"/></g>
<g id="r7-52" class="node"><circle cx="1116.7" cy="54.5" r="9.4"/></g>
<g id="r7-53" class="node"><circle cx="1097.0" cy="48.5" r="9.4"/></g>
<g id="r7-54" class="node"><circle cx="1077.2" cy="43.0" r="9.4"/></g>
<g id="r7-55" class="node"><circle cx="1057.3" cy="38.0" r="9.4"/></g>
<g id="r7-56" class="node"><circle cx="1037.3" cy="33.4" r="9.4"/></g>
<g id="r7-57" class="node"><circle cx="1017.1" cy="29.4" r="9.4"/></g>
<g id="r7-58" class="node"><circle cx="996.9" cy="25.9" r="9.4"/></g>
<g id="r7-59" class="node"><circle cx="976.6" cy="22.9" r="9.4"/></g>
<g id="r7-60" class="node"><circle cx="956.2" cy="20.3" r="9.4"/></g>
<g id="r7-61" class="node"><circle cx="935.8" cy="18.3" r="9.4"/></g>
<g id="r7-62" class="node"><circle cx="915.3" cy="16.8" r="9.4"/></g>
<g id="r7-63" class="node"><circle cx="894.8" cy="15.8" r="9.4"/></g>
<g id="r7-64" class="node"><circle cx="874.3" cy="15.3" r="9.4"/></g>
</svg>
